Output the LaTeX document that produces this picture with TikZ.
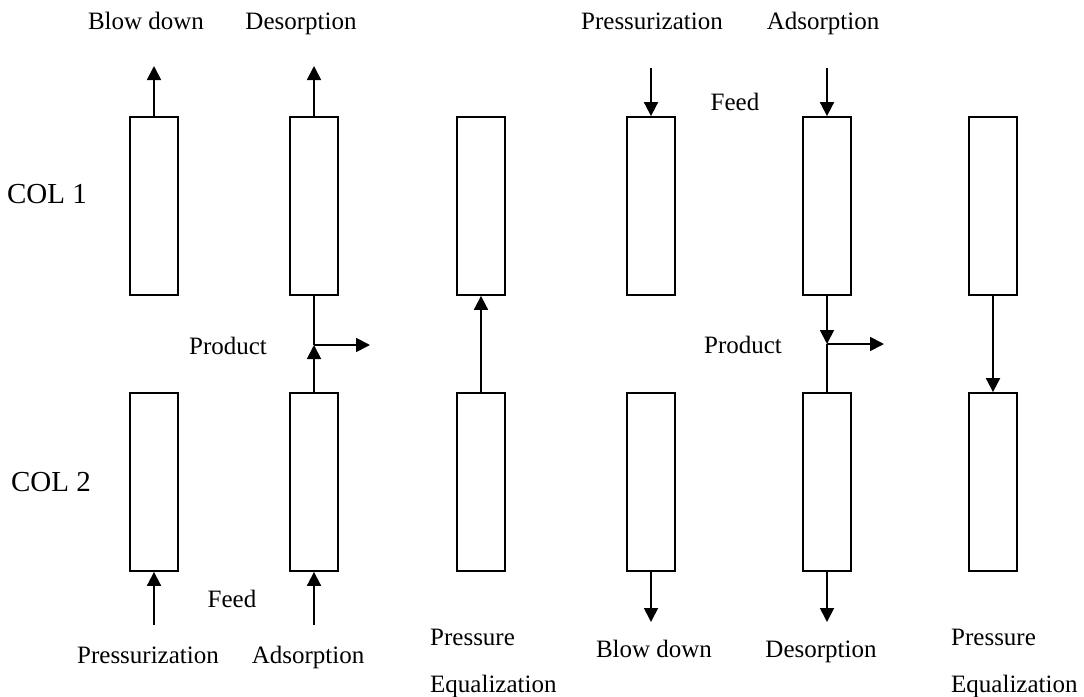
\documentclass[tikz,border=0pt]{standalone}
\usepackage{fontspec}
\setmainfont{Liberation Serif}
\usetikzlibrary{arrows.meta,positioning}

\begin{document}
\begin{tikzpicture}[x=1pt, y=-1pt,
    col/.style={draw, line width=1.8pt, minimum width=48pt, minimum height=178pt, inner sep=0pt},
    flow/.style={line width=1.8pt, -{Triangle[length=14pt,width=14pt]}},
    pipe/.style={line width=1.8pt},
    lbl/.style={font=\fontsize{25}{30}\selectfont, inner sep=0pt, text height=17pt, text depth=5pt},
    two/.style={font=\fontsize{25}{47}\selectfont, align=left, anchor=west, inner sep=0pt}]
    \useasboundingbox (0,0) rectangle (1084,696);

    % column labels
    \node[lbl, font=\fontsize{29}{34}\selectfont] (col1) at (47,197) {COL 1};
    \node[lbl, font=\fontsize{29}{34}\selectfont] (col2) at (51,485) {COL 2};

    % COL 1 beds
    \node[col] (c1a) at (154,206) {};
    \node[col] (c1b) at (314,206) {};
    \node[col] (c1c) at (481,206) {};
    \node[col] (c1d) at (651,206) {};
    \node[col] (c1e) at (827,206) {};
    \node[col] (c1f) at (993,206) {};

    % COL 2 beds
    \node[col] (c2a) at (154,482) {};
    \node[col] (c2b) at (314,482) {};
    \node[col] (c2c) at (481,482) {};
    \node[col] (c2d) at (651,482) {};
    \node[col] (c2e) at (827,482) {};
    \node[col] (c2f) at (993,482) {};

    % top step names
    \node[lbl] (tbd) at (146,23) {Blow down};
    \node[lbl] (tde) at (301,23) {Desorption};
    \node[lbl] (tpr) at (652,23) {Pressurization};
    \node[lbl] (tad) at (823,23) {Adsorption};
    \node[lbl] (tfeed) at (735,104) {Feed};

    % bottom step names
    \node[lbl] (bpr) at (148,657) {Pressurization};
    \node[lbl] (bad) at (308,657) {Adsorption};
    \node[lbl] (bfeed) at (232,601) {Feed};
    \node[two] (bpe1) at (430,663) {Pressure\\Equalization};
    \node[lbl] (bbd) at (654,651) {Blow down};
    \node[lbl] (bde) at (821,651) {Desorption};
    \node[two] (bpe2) at (951,663) {Pressure\\Equalization};

    % products
    \node[lbl] (prod1) at (228,348) {Product};
    \node[lbl] (prod2) at (743,347) {Product};

    % free ends
    \coordinate (o1) at (154,66);
    \coordinate (o2) at (314,66);
    \coordinate (i4) at (651,68);
    \coordinate (i5) at (827,68);
    \coordinate (i1) at (154,625);
    \coordinate (i2) at (314,625);
    \coordinate (o4) at (651,622);
    \coordinate (o5) at (827,622);
    \coordinate (j1) at (314,345);
    \coordinate (j1out) at (370,345);
    \coordinate (j2) at (827,344);
    \coordinate (j2out) at (884,344);

    % flows, first half
    \draw[flow] (c1a.north) -- (o1);
    \draw[flow] (c1b.north) -- (o2);
    \draw[flow] (i1) -- (c2a.south);
    \draw[flow] (i2) -- (c2b.south);
    \draw[flow] (c2b.north) -- (j1);
    \draw[pipe] (j1) -- (c1b.south);
    \draw[flow] (j1) -- (j1out);
    \draw[flow] (c2c.north) -- (c1c.south);

    % flows, second half
    \draw[flow] (i4) -- (c1d.north);
    \draw[flow] (i5) -- (c1e.north);
    \draw[flow] (c2d.south) -- (o4);
    \draw[flow] (c2e.south) -- (o5);
    \draw[flow] (c1e.south) -- (j2);
    \draw[pipe] (j2) -- (c2e.north);
    \draw[flow] (j2) -- (j2out);
    \draw[flow] (c1f.south) -- (c2f.north);
\end{tikzpicture}
\end{document}
